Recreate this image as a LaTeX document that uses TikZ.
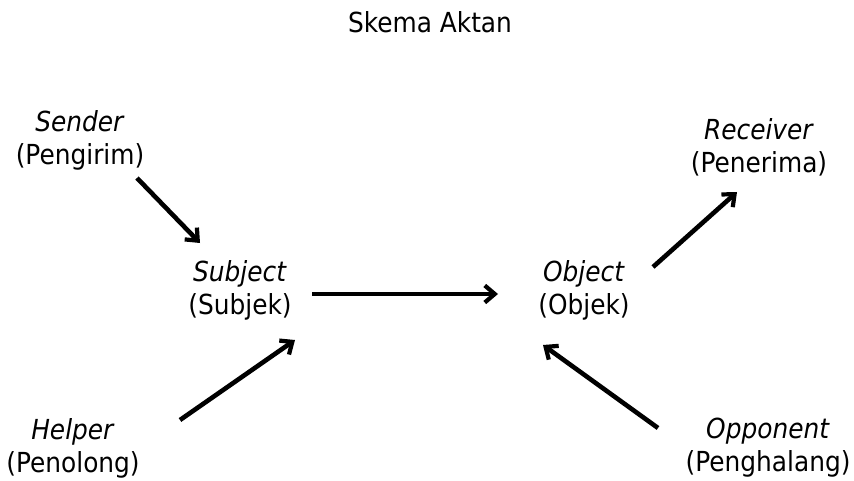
\documentclass[tikz,border=0pt]{standalone}
\usepackage{fontspec}
\setmainfont{DejaVu Sans}[FakeStretch=0.9]
\usetikzlibrary{arrows.meta,calc}
\begin{document}
\begin{tikzpicture}[x=1pt,y=-1pt,
  lbl/.style={inner sep=0pt,align=center,font=\fontsize{27.6}{33}\selectfont},
  conn/.style={line width=4.6pt,-{Straight Barb[length=10pt,width=17pt,line width=4.2pt]}}]
\useasboundingbox (0,0) rectangle (854,481);
\node[lbl] (title) at (430,22) {Skema Aktan};
\node[lbl] (sender) at (80,140) {\textit{Sender}\\(Pengirim)};
\node[lbl] (subject) at (240,290) {\textit{Subject}\\(Subjek)};
\node[lbl] (object) at (584,290) {\textit{Object}\\(Objek)};
\node[lbl] (receiver) at (759,147) {\textit{Receiver}\\(Penerima)};
\node[lbl] (helper) at (73,448) {\textit{Helper}\\(Penolong)};
\node[lbl] (opponent) at (768,448) {\textit{Opponent}\\(Penghalang)};
\draw[conn] ($(sender)+(57,38)$) -- ($(subject)+(-40,-47)$);
\draw[conn] ($(subject)+(72,4)$) -- ($(object)+(-86,4)$);
\draw[conn] ($(object)+(69,-23)$) -- ($(receiver)+(-22,45)$);
\draw[conn] ($(helper)+(107,-28)$) -- ($(subject)+(55,50)$);
\draw[conn] ($(opponent)+(-110,-20)$) -- ($(object)+(-41,55)$);
\end{tikzpicture}
\end{document}
